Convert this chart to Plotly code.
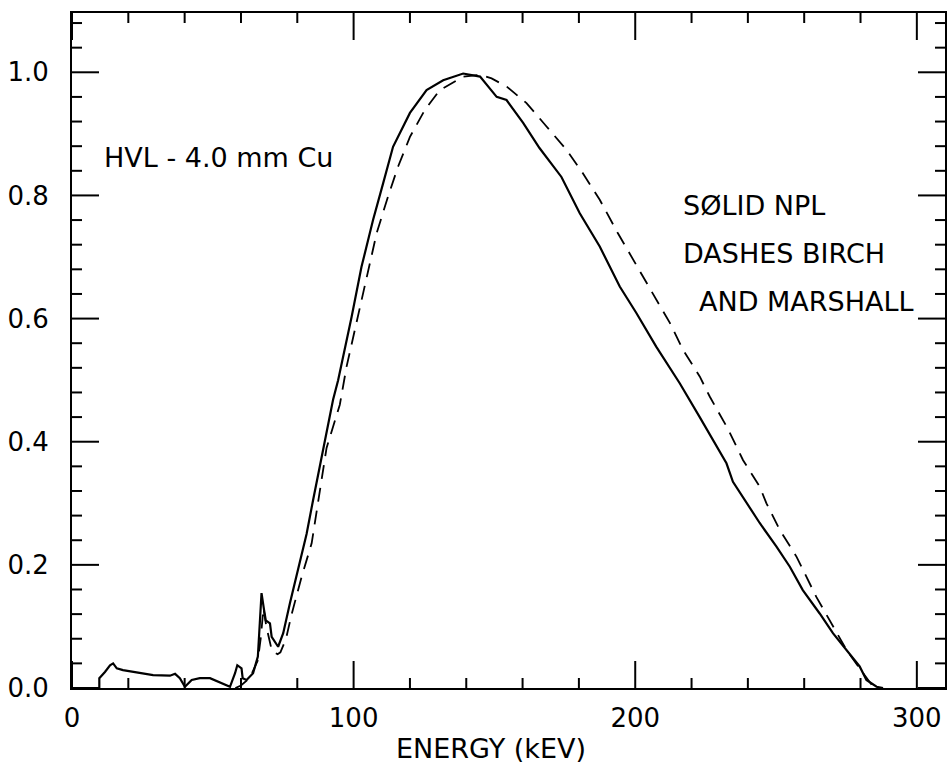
import plotly.graph_objects as go

# NPL spectrum (solid)
npl_energy = [9.7, 9.7, 11.7, 13.5, 14.6, 15.9, 18.1, 23.0, 28.8, 34.8, 36.6, 38.3, 40.1, 42.5,
              45.4, 49.0, 52.5, 54.9, 56.1, 57.9, 58.7, 60.2, 60.6, 62.0, 64.3, 66.0, 66.7, 67.3,
              68.2, 68.8, 70.3, 70.9, 73.2, 75.0, 77.4, 80.2, 83.3, 85.6, 88.0, 90.4, 92.7, 94.5,
              99.3, 102.8, 106.9, 110.5, 114.0, 120.0, 125.9, 131.8, 138.9, 144.9, 150.8, 154.3,
              157.8, 160.2, 166.0, 173.8, 180.3, 187.4, 194.5, 200.4, 207.5, 215.8, 222.9, 227.6,
              232.4, 234.7, 240.7, 244.2, 250.1, 254.9, 259.5, 265.5, 270.2, 275.0, 279.7, 282.1,
              285.7, 288.0]
npl_value = [0.0, 0.016, 0.026, 0.037, 0.040, 0.032, 0.029, 0.025, 0.021, 0.020, 0.023, 0.016, 0.002, 0.013,
             0.016, 0.016, 0.009, 0.005, 0.002, 0.024, 0.037, 0.032, 0.016, 0.013, 0.024, 0.051, 0.105, 0.154,
             0.127, 0.110, 0.105, 0.083, 0.067, 0.089, 0.138, 0.190, 0.250, 0.305, 0.360, 0.420, 0.468, 0.500,
             0.603, 0.684, 0.760, 0.820, 0.879, 0.934, 0.971, 0.987, 0.998, 0.993, 0.960, 0.955,
             0.934, 0.918, 0.877, 0.830, 0.771, 0.717, 0.652, 0.609, 0.554, 0.495, 0.440, 0.403,
             0.365, 0.335, 0.294, 0.268, 0.230, 0.197, 0.159, 0.121, 0.089, 0.062, 0.035, 0.013,
             0.002, 0.0]

# Birch and Marshall spectrum (dashes)
bm_energy = [58.0, 60.0, 62.0, 64.0, 66.0, 67.0, 68.0, 69.0, 70.0, 71.0, 73.0, 74.0, 76.0, 78.0,
             81.5, 85.1, 90.4, 95.1, 97.5, 102.8, 108.2, 112.2, 115.8, 120.0, 125.3, 130.6, 138.9,
             145.0, 149.0, 154.3, 161.4, 168.5, 175.6, 181.4, 187.4, 193.8, 200.9, 206.2, 212.3,
             217.0, 222.9, 226.5, 232.9, 238.3, 244.2, 246.6, 251.3, 257.3, 264.3, 270.2, 275.0,
             280.0, 284.0, 287.0]
bm_value = [0.0, 0.004, 0.012, 0.025, 0.045, 0.080, 0.130, 0.100, 0.080, 0.060, 0.055, 0.058, 0.080, 0.120,
            0.180, 0.235, 0.390, 0.460, 0.522, 0.630, 0.739, 0.798, 0.847, 0.895, 0.939, 0.971, 0.993,
            0.996, 0.990, 0.977, 0.950, 0.912, 0.874, 0.836, 0.793, 0.739, 0.684, 0.641, 0.593,
            0.549, 0.506, 0.473, 0.421, 0.370, 0.327, 0.300, 0.257, 0.213, 0.148, 0.100, 0.062,
            0.030, 0.005, 0.0]

x_ticks = [0, 100, 200, 300]
x_tick_labels = ["0", "100", "200", "300"]
x_minor_ticks = [20, 40, 60, 80, 120, 140, 160, 180, 220, 240, 260, 280]
y_ticks = [0.0, 0.2, 0.4, 0.6, 0.8, 1.0]
y_tick_labels = ["0.0", "0.2", "0.4", "0.6", "0.8", "1.0"]
y_minor_ticks = [0.04, 0.08, 0.12, 0.16, 0.24, 0.28, 0.32, 0.36, 0.44, 0.48, 0.52, 0.56,
                 0.64, 0.68, 0.72, 0.76, 0.84, 0.88, 0.92, 0.96, 1.04, 1.08]

X_RANGE = [0, 310]
Y_RANGE = [0, 1.0963]
FONT = "DejaVu Sans"

W, H = 951, 764
M = dict(l=72, r=6, t=13, b=76)
plot_w = W - M["l"] - M["r"]
plot_h = H - M["t"] - M["b"]
MAJOR_LEN, MINOR_LEN = 27, 10

fig = go.Figure()
fig.add_trace(go.Scatter(x=npl_energy, y=npl_value, mode="lines",
                         line=dict(color="black", width=2.2), showlegend=False))
fig.add_trace(go.Scatter(x=bm_energy, y=bm_value, mode="lines",
                         line=dict(color="black", width=1.8, dash="14px,9px"), showlegend=False))

# inward ticks on all four sides as shapes, placed by the tick arrays on the data axes
tick_line = dict(color="black", width=2)
for vals, ln in ((x_ticks, MAJOR_LEN), (x_minor_ticks, MINOR_LEN)):
    frac = ln / plot_h
    for v in vals:
        fig.add_shape(type="line", xref="x", yref="paper", x0=v, x1=v, y0=0, y1=frac,
                      line=tick_line, layer="above")
        fig.add_shape(type="line", xref="x", yref="paper", x0=v, x1=v, y0=1, y1=1 - frac,
                      line=tick_line, layer="above")
for vals, ln in ((y_ticks, MAJOR_LEN), (y_minor_ticks, MINOR_LEN)):
    frac = ln / plot_w
    for v in vals:
        fig.add_shape(type="line", xref="paper", yref="y", x0=0, x1=frac, y0=v, y1=v,
                      line=tick_line, layer="above")
        fig.add_shape(type="line", xref="paper", yref="y", x0=1, x1=1 - frac, y0=v, y1=v,
                      line=tick_line, layer="above")

annots = [
    ("HVL - 4.0 mm Cu", 10.5, 0.861),
    ("SØLID NPL", 216.4, 0.784),
    ("DASHES BIRCH", 216.4, 0.7065),
    ("AND MARSHALL", 221.8, 0.627),
]
for txt, ax_, ay_ in annots:
    fig.add_annotation(x=ax_, y=ay_, xref="x", yref="y", text=txt, showarrow=False,
                       xanchor="left", yanchor="middle",
                       font=dict(family=FONT, size=27, color="black"))

fig.add_annotation(x=0.48, y=-0.09, xref="paper", yref="paper", text="ENERGY (kEV)",
                   showarrow=False, xanchor="center", yanchor="middle",
                   font=dict(family=FONT, size=27, color="black"))

fig.update_layout(
    template="none",
    width=W, height=H,
    margin=M,
    paper_bgcolor="white", plot_bgcolor="white",
    font=dict(family=FONT, color="black"),
    xaxis=dict(range=X_RANGE, tickmode="array", tickvals=x_ticks, ticktext=x_tick_labels,
               showline=True, linecolor="black", linewidth=2, mirror=True,
               ticks="", ticklabelstandoff=6,
               showgrid=False, zeroline=False,
               tickfont=dict(family=FONT, size=26, color="black")),
    yaxis=dict(range=Y_RANGE, tickmode="array", tickvals=y_ticks, ticktext=y_tick_labels,
               showline=True, linecolor="black", linewidth=2, mirror=True,
               ticks="", ticklabelstandoff=16,
               showgrid=False, zeroline=False,
               tickfont=dict(family=FONT, size=26, color="black")),
)

fig.write_html("out.html")
